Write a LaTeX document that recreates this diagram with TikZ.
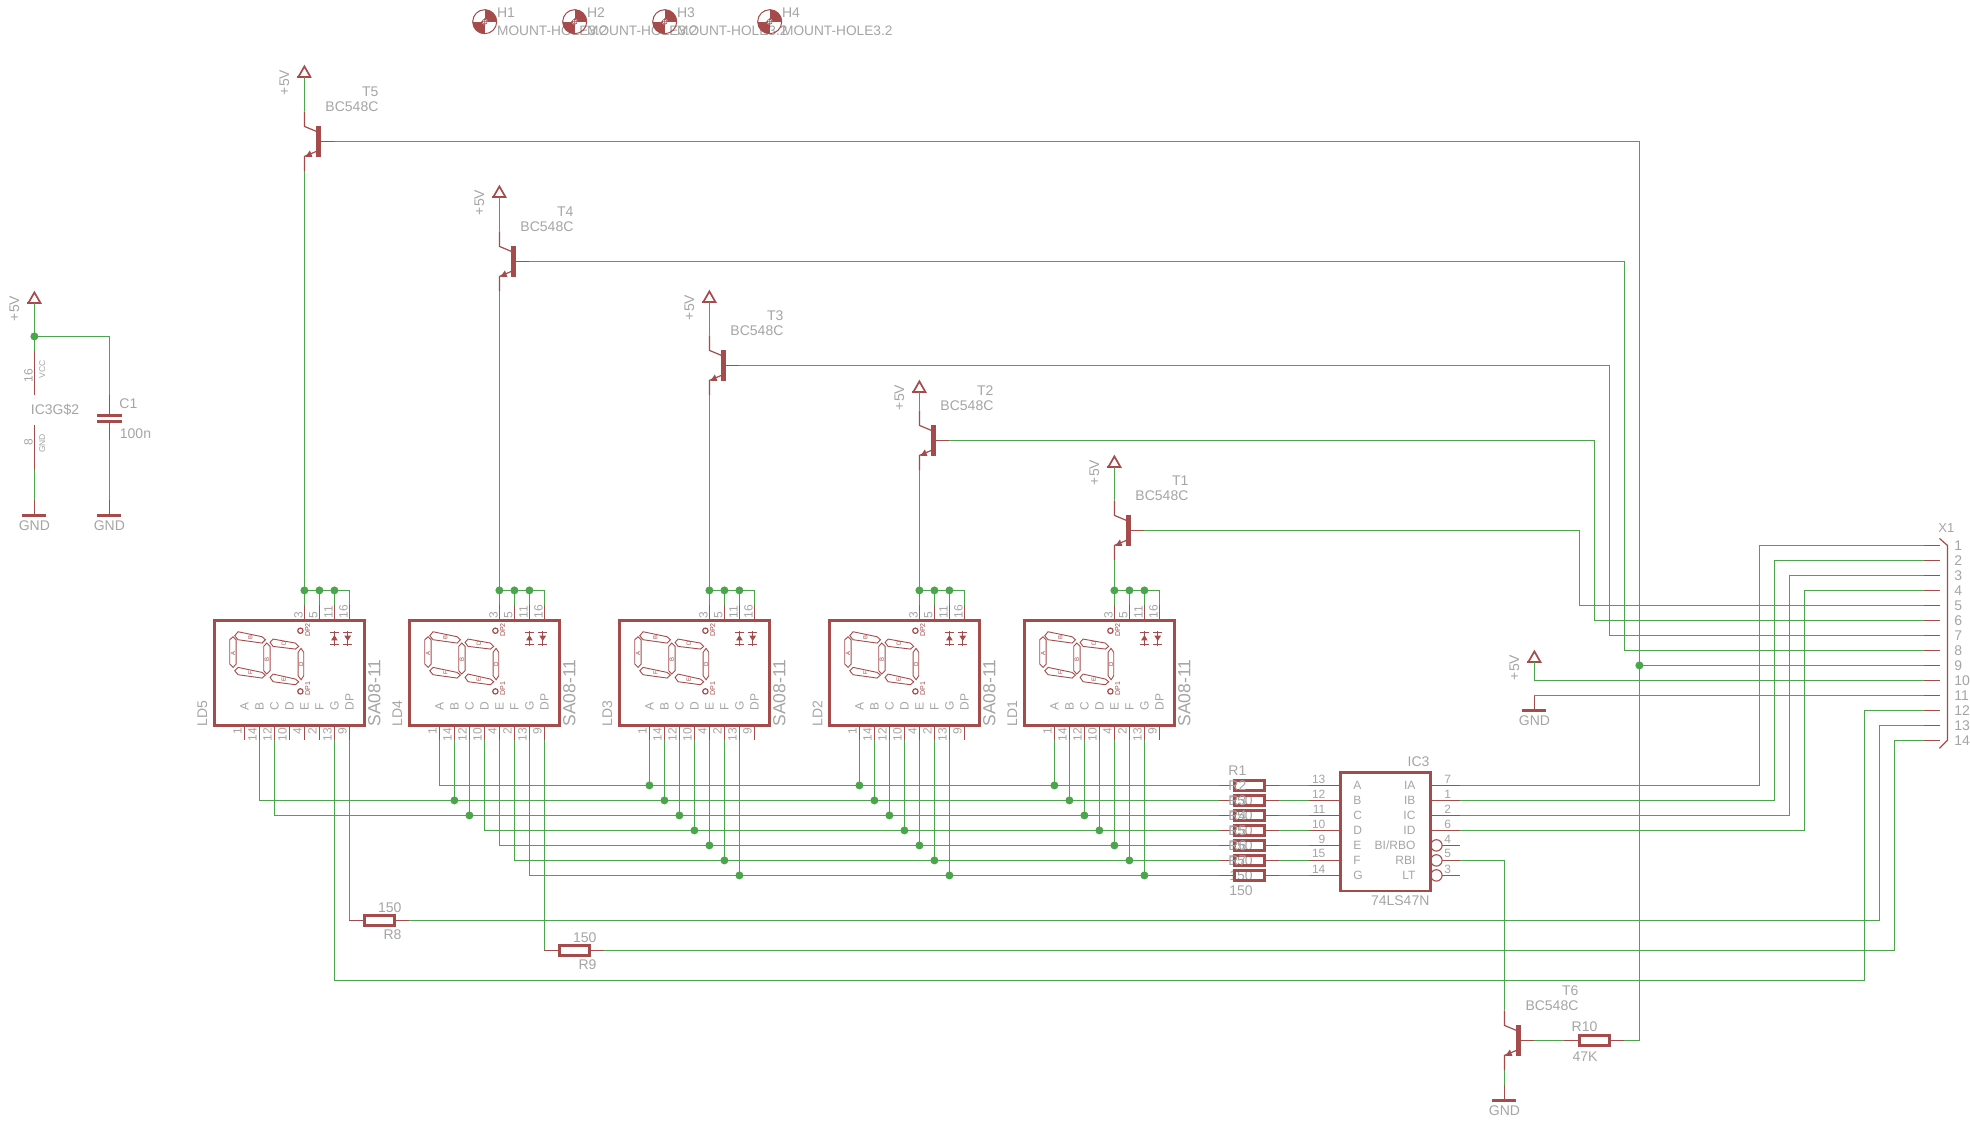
\documentclass[tikz,border=0pt]{standalone}
\usepackage{fontspec}
\setmainfont{Liberation Sans}
\definecolor{netc}{HTML}{4BA54B}
\definecolor{symc}{HTML}{A54B4B}
\definecolor{txtc}{HTML}{A5A5A5}
\tikzset{
  wire/.style={draw=netc,line width=1.3pt},
  junc/.style={circle,fill=netc,draw=none,minimum size=8pt,inner sep=0pt,outer sep=0pt},
  sym/.style={draw=symc,line width=1.2pt},
  symthick/.style={draw=symc,line width=2.5pt},
  lbl/.style={inner sep=0pt,outer sep=0pt,text=txtc,font=\fontsize{14}{14}\selectfont},
  lblpin/.style={lbl,font=\fontsize{12}{12}\selectfont},
  lblin/.style={lbl,font=\fontsize{12}{12}\selectfont},
  lblbig/.style={lbl,font=\fontsize{17.5}{17}\selectfont},
  tiny/.style={inner sep=0pt,outer sep=0pt,text=symc,font=\fontsize{6}{6}\selectfont},
}
% seven segment display: name, left x, designator
\newcommand{\LDunit}[2]{%
  \begin{scope}[shift={(#2,0)}]
    \draw[symthick] (0,620) rectangle (150,725);
    \foreach \n/\dx in {3/90,5/105,11/120,16/135}{
      \draw[sym] (\dx,620) -- (\dx,605) coordinate (#1-p\n);
      \node[lblpin,rotate=90,anchor=west] (#1-tl\n) at (\dx-6,618) {\n};
    }
    \foreach \n/\dx in {1/30,14/45,12/60,10/75,4/90,2/105,13/120,9/135}{
      \draw[sym] (\dx,725) -- (\dx,740) coordinate (#1-p\n);
      \node[lblpin,rotate=90,anchor=east] (#1-tl\n) at (\dx-7,727.5) {\n};
    }
    \foreach \n/\dx in {A/30,B/45,C/60,D/75,E/90,F/105,G/120,DP/135}{
      \node[lblin,rotate=90,anchor=west] (#1-tt\n) at (\dx,710) {\n};
    }
    \node[lbl,rotate=90,anchor=west] (#1-name) at (-12,726) {#1};
    \node[lblbig,rotate=90,anchor=west] (#1-type) at (160,726) {SA08-11};
    \begin{scope}[shift={(6,622)},x=0.3333pt,y=-0.3333pt]
      \foreach \P in {
        {(43,40)--(53,28)--(125,43)--(135,52)--(125,62)--(53,52)--cycle},
        {(28,52)--(38,43)--(47,52)--(47,125)--(38,135)--(28,125)--cycle},
        {(130,72)--(139,62)--(149,72)--(149,145)--(139,155)--(130,145)--cycle},
        {(43,145)--(53,135)--(125,150)--(135,158)--(125,167)--(53,157)--cycle},
        {(149,60)--(158,50)--(225,62)--(235,72)--(225,80)--(158,72)--cycle},
        {(233,90)--(242,78)--(250,90)--(250,160)--(242,172)--(233,160)--cycle},
        {(149,165)--(158,155)--(225,170)--(235,178)--(225,187)--(158,178)--cycle}}{
        \draw[symc,line width=0.9pt] \P;
      }
      \node[tiny,rotate=90] (#1-s1) at (90,45) {B};
      \node[tiny,rotate=90] (#1-s2) at (38,92) {A};
      \node[tiny,rotate=90] (#1-s3) at (139,112) {B};
      \node[tiny,rotate=90] (#1-s4) at (90,152) {F};
      \node[tiny,rotate=90] (#1-s5) at (190,62) {D};
      \node[tiny,rotate=90] (#1-s6) at (242,125) {D};
      \node[tiny,rotate=90] (#1-s7) at (190,170) {E};
      \draw[symc,line width=1.2pt] (240,25) circle[radius=8];
      \draw[symc,line width=1.2pt] (240,207) circle[radius=8];
      \node[tiny,rotate=90,font=\fontsize{7}{7}\selectfont] (#1-dp2) at (262,23) {DP2};
      \node[tiny,rotate=90,font=\fontsize{7}{7}\selectfont] (#1-dp1) at (262,198) {DP1};
      \foreach \xc in {342,382}{
        \draw[symc,line width=1pt] (\xc,26) -- (\xc,70);
        \draw[symc,line width=1.1pt] (\xc-14,30) -- (\xc+14,30);
        \draw[symc,line width=1.1pt] (\xc-14,66) -- (\xc+14,66);
      }
      \fill[symc] (342,38) -- (332,54) -- (352,54) -- cycle;
      \fill[symc] (382,56) -- (372,40) -- (392,40) -- cycle;
    \end{scope}
  \end{scope}
  \node[junc] (#1-j3) at (#2+90,590) {};
  \node[junc] (#1-j5) at (#2+105,590) {};
  \node[junc] (#1-j11) at (#2+120,590) {};
  \draw[wire] (#1-p3) -- (#1-j3.center);
  \draw[wire] (#1-p5) -- (#1-j5.center);
  \draw[wire] (#1-p11) -- (#1-j11.center);
  \draw[wire] (#1-p16) |- (#1-j3.center);
}
% transistor: name, x of collector, y of base
\newcommand{\Trans}[3]{%
  \fill[symc] (#2+12,#3-15) rectangle (#2+17,#3+16);
  \draw[sym] (#2+17,#3) -- (#2+30,#3) coordinate (#1-b);
  \draw[sym] (#2+12,#3-10) -- (#2,#3-15) -- (#2,#3-30) coordinate (#1-c);
  \draw[sym] (#2+12,#3+10) -- (#2,#3+15) -- (#2,#3+30) coordinate (#1-e);
  \fill[symc] (#2+1,#3+15.5) -- (#2+5.5,#3+9) -- (#2+8,#3+15.5) -- cycle;
  \node[lbl,anchor=east] (#1-name) at (#2+74,#3-50) {#1};
  \node[lbl,anchor=east] (#1-type) at (#2+74,#3-35) {BC548C};
}
% +5V supply: name, x, y of apex
\newcommand{\Supply}[3]{%
  \draw[draw=symc,line width=1.7pt] (#2,#3+11.5) ++(-6,0) -- (#2,#3+1) -- (#2+6,#3+11.5) -- cycle;
  \draw[draw=symc,line width=2.4pt] (#2-7,#3+11.5) -- (#2+7,#3+11.5);
  \coordinate (#1) at (#2,#3+12);
  \node[lbl,rotate=90] (#1-lbl) at (#2-20,#3+17) {+5V};
}
% ground: name, x, y of bar
\newcommand{\Ground}[3]{%
  \draw[draw=symc,line width=2.4pt] (#2-12,#3) -- (#2+12,#3);
  \draw[sym] (#2,#3) -- (#2,#3-15) coordinate (#1);
  \node[lbl] (#1-lbl) at (#2,#3+10.5) {GND};
}
% resistor: name, left of body, y
\newcommand{\Res}[3]{%
  \draw[symthick,line width=2.2pt] (#2,#3-5) rectangle (#2+30,#3+5);
  \draw[sym] (#2,#3) -- (#2-15,#3) coordinate (#1-l);
  \draw[sym] (#2+30,#3) -- (#2+45,#3) coordinate (#1-r);
}
\begin{document}
\begin{tikzpicture}[x=1pt,y=-1pt]
\path[use as bounding box,fill=white] (-0.4,-0.4) rectangle (1969.6,1120.6);

% mounting holes
\foreach \i/\xc in {1/484.3,2/574.3,3/664.3,4/769.3}{
  \begin{scope}
    \clip (\xc,21.3) circle[radius=12.3];
    \fill[symc] (\xc,8) rectangle (\xc+14,21.3);
    \fill[symc] (\xc-14,21.3) rectangle (\xc,35);
  \end{scope}
  \draw[symc,line width=1pt] (\xc,21.3) circle[radius=12];
  \fill[white] (\xc,21.3) circle[radius=3];
  \draw[symc,line width=0.6pt] (\xc,21.3) circle[radius=2.5] (\xc-3.5,21.3) -- (\xc+3.5,21.3) (\xc,17.8) -- (\xc,24.8);
  \node[lbl,anchor=west] (H\i) at (\xc+12.4,12.3) {H\i};
  \node[lbl,anchor=west,font=\fontsize{13.7}{14}\selectfont] (H\i-val) at (\xc+12.4,30) {MOUNT-HOLE3.2};
}

% power section
\Supply{P0}{34}{291}
\node[junc] (J0) at (34,336) {};
\draw[wire] (P0) -- (J0.center);
\draw[sym] (34,351) coordinate (G-16) -- (34,395);
\draw[sym] (34,425) -- (34,470) coordinate (G-8);
\draw[wire] (J0.center) -- (G-16);
\node[lblpin,rotate=90] (G-t16) at (28,375) {16};
\node[lblpin,rotate=90] (G-t8) at (28,442) {8};
\node[inner sep=0pt,text=txtc,font=\fontsize{8.5}{9}\selectfont,rotate=90] (G-vcc) at (41.7,369) {VCC};
\node[inner sep=0pt,text=txtc,font=\fontsize{8.5}{9}\selectfont,rotate=90] (G-gnd) at (41.7,443) {GND};
\node[lbl,anchor=west] (G-name) at (30.5,409) {IC3G\$2};
\Ground{GA}{34}{515}
\draw[wire] (G-8) -- (GA);
\draw[symthick,line width=3pt] (97,415) -- (122,415);
\draw[symthick,line width=3pt] (97,421) -- (122,421);
\draw[sym] (109,415) -- (109,395) coordinate (C1-t);
\draw[sym] (109,421) -- (109,440) coordinate (C1-b);
\node[lbl,anchor=west] (C1-name) at (119,403) {C1};
\node[lbl,anchor=west] (C1-val) at (119.5,433) {100n};
\draw[wire] (J0.center) -| (C1-t);
\Ground{GB}{109}{515}
\draw[wire] (C1-b) -- (GB);

% displays
\LDunit{LD5}{214}
\LDunit{LD4}{409}
\LDunit{LD3}{619}
\LDunit{LD2}{829}
\LDunit{LD1}{1024}

% transistors and supplies
\Trans{T5}{304}{141}
\Trans{T4}{499}{261}
\Trans{T3}{709}{365}
\Trans{T2}{919}{440}
\Trans{T1}{1114}{530}
\Trans{T6}{1504}{1040}
\Supply{P5}{304}{65}
\Supply{P4}{499}{185}
\Supply{P3}{709}{290}
\Supply{P2}{919}{380}
\Supply{P1}{1114}{455}
\foreach \i in {1,...,5}{
  \draw[wire] (P\i) -- (T\i-c);
  \draw[wire] (T\i-e) -- (LD\i-j3.center);
}
\Ground{GT}{1504}{1100}
\draw[wire] (T6-e) -- (GT);

% resistors R1-R7 and IC
\foreach \i/\yy in {1/785,2/800,3/815,4/830,5/845,6/860,7/875}{
  \Res{R\i}{1234}{\yy}
  \node[lbl,anchor=west] (R\i-name) at (1228,\yy-14.5) {R\i};
  \node[lbl,anchor=west] (R\i-val) at (1229,\yy+15) {150};
}
\draw[symthick,line width=2.8pt] (1340,772) rectangle (1430,890.5);
\node[lbl,anchor=east] (IC3-name) at (1429,761) {IC3};
\node[lbl,anchor=east] (IC3-type) at (1429,900) {74LS47N};
\foreach \n/\t/\yy [count=\k] in {13/A/785,12/B/800,11/C/815,10/D/830,9/E/845,15/F/860,14/G/875}{
  \draw[sym] (1340,\yy) -- (1309,\yy) coordinate (IC3-l\k);
  \node[lblin,anchor=east] (IC3-n\n) at (1325,\yy-6.5) {\n};
  \node[lblin,anchor=west] (IC3-t\t) at (1353,\yy) {\t};
  \draw[wire] (R\k-r) -- (IC3-l\k);
}
\foreach \n/\t/\yy in {7/IA/785,1/IB/800,2/IC/815,6/ID/830}{
  \draw[sym] (1430,\yy) -- (1460,\yy) coordinate (IC3-p\n);
  \node[lblin,anchor=west] (IC3-n\n) at (1444,\yy-6.5) {\n};
  \node[lblin,anchor=east] (IC3-t\t) at (1415,\yy) {\t};
}
\foreach \n/\t/\yy in {4/BI\slash RBO/845,5/RBI/860,3/LT/875}{
  \draw[symc,line width=1.1pt] (1436,\yy) circle[radius=5.7];
  \draw[sym] (1442,\yy) -- (1460,\yy) coordinate (IC3-p\n);
  \node[lblin,anchor=west] (IC3-n\n) at (1444,\yy-6.5) {\n};
  \node[lblin,anchor=east] (IC3-tt\n) at (1415,\yy) {\t};
}

% connector X1
\draw[symc,line width=1.2pt] (1939,538) -- (1947,545) -- (1947,740) -- (1939,748);
\node[lbl,font=\fontsize{13}{13}\selectfont] (X1-name) at (1946,528) {X1};
\foreach \i [evaluate=\i as \yy using int(530+15*\i)] in {1,...,14}{
  \draw[sym] (1940,\yy) -- (1924,\yy) coordinate (X1-\i);
  \node[lbl,anchor=west] (X1-t\i) at (1954,\yy) {\i};
}

% resistors R8-R10
\Res{R8}{364}{920}
\node[lbl,anchor=east] (R8-val) at (401,907) {150};
\node[lbl,anchor=east] (R8-name) at (401,934) {R8};
\Res{R9}{559}{950}
\node[lbl,anchor=east] (R9-val) at (596,937) {150};
\node[lbl,anchor=east] (R9-name) at (596,964) {R9};
\Res{R10}{1579}{1040}
\node[lbl,anchor=east] (R10-name) at (1597,1026) {R10};
\node[lbl,anchor=east] (R10-val) at (1597,1056) {47K};

% supply and ground at connector
\Supply{P6}{1534}{650}
\Ground{GX}{1534}{710}
\draw[wire] (P6) |- (X1-10);
\draw[wire] (GX) -- (X1-11);

% segment buses
\draw[wire] (LD4-p1) |- (R1-l);
\draw[wire] (LD5-p14) |- (R2-l);
\draw[wire] (LD5-p12) |- (R3-l);
\draw[wire] (LD4-p10) |- (R4-l);
\draw[wire] (LD4-p4) |- (R5-l);
\draw[wire] (LD4-p2) |- (R6-l);
\draw[wire] (LD4-p13) |- (R7-l);
\node[junc] (LD4-jB) at (LD4-p14 |- R2-l) {};
\node[junc] (LD4-jC) at (LD4-p12 |- R3-l) {};
\draw[wire] (LD4-p14) -- (LD4-jB.center);
\draw[wire] (LD4-p12) -- (LD4-jC.center);
\foreach \d in {LD3,LD2,LD1}{
  \foreach \p/\r in {1/1,14/2,12/3,10/4,4/5,2/6,13/7}{
    \node[junc] (\d-jb\p) at (\d-p\p |- R\r-l) {};
    \draw[wire] (\d-p\p) -- (\d-jb\p.center);
  }
}

% outputs to connector
\foreach \n/\i/\xv in {7/1/1759,1/2/1774,2/3/1789,6/4/1804}{
  \coordinate (V\i) at (\xv,530+15*\i);
  \draw[wire] (IC3-p\n) -| (V\i) -- (X1-\i);
}
% digit drivers
\foreach \t/\i/\xv in {T1/5/1579,T2/6/1594,T3/7/1609,T4/8/1624}{
  \coordinate (V\i) at (\xv,530+15*\i);
  \draw[wire] (\t-b) -| (V\i) -- (X1-\i);
}
\node[junc] (J9) at (1639,665) {};
\draw[wire] (T5-b) -| (J9.center) -- (X1-9);
\draw[wire] (J9.center) |- (R10-r);
\draw[wire] (T6-b) -- (R10-l);
\draw[wire] (IC3-p5) -| (T6-c);

% decimal points and extra segments
\coordinate (V12) at (1864,980);
\draw[wire] (LD5-p13) |- (V12) |- (X1-12);
\draw[wire] (LD5-p9) |- (R8-l);
\coordinate (V13) at (1879,725);
\draw[wire] (R8-r) -| (V13) -- (X1-13);
\draw[wire] (LD4-p9) |- (R9-l);
\coordinate (V14) at (1894,740);
\draw[wire] (R9-r) -| (V14) -- (X1-14);
\end{tikzpicture}
\end{document}
